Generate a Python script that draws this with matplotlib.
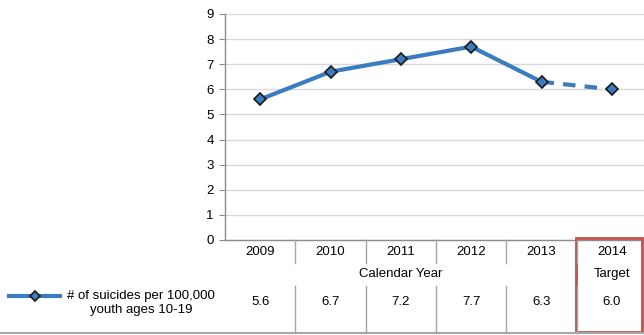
import numpy as np
import matplotlib.pyplot as plt
from matplotlib.transforms import blended_transform_factory
from matplotlib.lines import Line2D
from matplotlib.patches import Rectangle

years = ["2009", "2010", "2011", "2012", "2013", "2014"]
group_labels = ["Calendar Year", "Target"]
rates = [5.6, 6.7, 7.2, 7.7, 6.3, 6.0]
series_name = "# of suicides per 100,000\nyouth ages 10-19"

plt.rcParams['font.family'] = ['Liberation Sans', 'DejaVu Sans']
blue = '#3b7cc0'
grey_axis = '#8c8c8c'

fig = plt.figure(figsize=(6.44, 3.35), dpi=100)
W, H = 644, 335
ax = fig.add_axes([225 / W, 1 - 240 / H, 422 / W, 226 / H])

x = np.arange(len(years))
ax.plot(x[:5], rates[:5], color=blue, lw=3, solid_capstyle='round', zorder=3)
ax.plot(x[4:], rates[4:], color=blue, lw=3, ls=(0, (3, 2.2)), zorder=3)
ax.plot(x, rates, ls='none', marker='D', ms=6.5, mfc=blue, mec='#1a1a1a',
        mew=1.2, zorder=4)

ax.set_xlim(-0.5, len(years) - 0.5)
ax.set_ylim(0, 9)
ax.set_yticks(range(10))
ax.tick_params(axis='y', labelsize=9.5, length=4, color=grey_axis, pad=4)
ax.set_xticks([])
ax.grid(axis='y', color='#d9d9d9', lw=1)
ax.set_axisbelow(True)
for s in ['top', 'right']:
    ax.spines[s].set_visible(False)
for s in ['left', 'bottom']:
    ax.spines[s].set_color(grey_axis)
    ax.spines[s].set_linewidth(1)

# data table under the axis
tr = blended_transform_factory(ax.transData, fig.transFigure)
def fy(py):
    return 1 - py / H

for i, (yr, v) in enumerate(zip(years, rates)):
    ax.text(i, fy(252), yr, transform=tr, ha='center', va='center',
            fontsize=9.5, clip_on=False)
    ax.text(i, fy(302), f"{v:.1f}", transform=tr, ha='center', va='center',
            fontsize=9.5, clip_on=False)
ax.text(2, fy(274), group_labels[0], transform=tr, ha='center', va='center',
        fontsize=9.5, clip_on=False)
ax.text(5, fy(274), group_labels[1], transform=tr, ha='center', va='center',
        fontsize=9.5, clip_on=False)

for b in np.arange(0.5, len(years) - 1, 1.0):
    fig.add_artist(Line2D([b, b], [fy(240), fy(263)], transform=tr,
                          color='#a6a6a6', lw=1))
    fig.add_artist(Line2D([b, b], [fy(286), fy(333)], transform=tr,
                          color='#a6a6a6', lw=1))
fig.add_artist(Line2D([0, 1], [fy(333), fy(333)], transform=fig.transFigure,
                      color='#a6a6a6', lw=1.5))

# highlight box around the target column
fig.add_artist(Rectangle((576 / W, fy(332)), 66 / W, 94 / H,
                         transform=fig.transFigure, fill=False,
                         ec='#c0504d', lw=2))

# legend key
fig.add_artist(Line2D([9 / W, 60 / W], [fy(296), fy(296)],
                      transform=fig.transFigure, color=blue, lw=3))
fig.add_artist(Line2D([35 / W], [fy(296)], transform=fig.transFigure,
                      marker='D', ms=5.5, mfc=blue, mec='#1a1a1a', mew=1.2))
fig.text(141 / W, fy(303), series_name, ha='center', va='center',
         fontsize=9.5, linespacing=1.3)

fig.savefig("out.png", dpi=100)
